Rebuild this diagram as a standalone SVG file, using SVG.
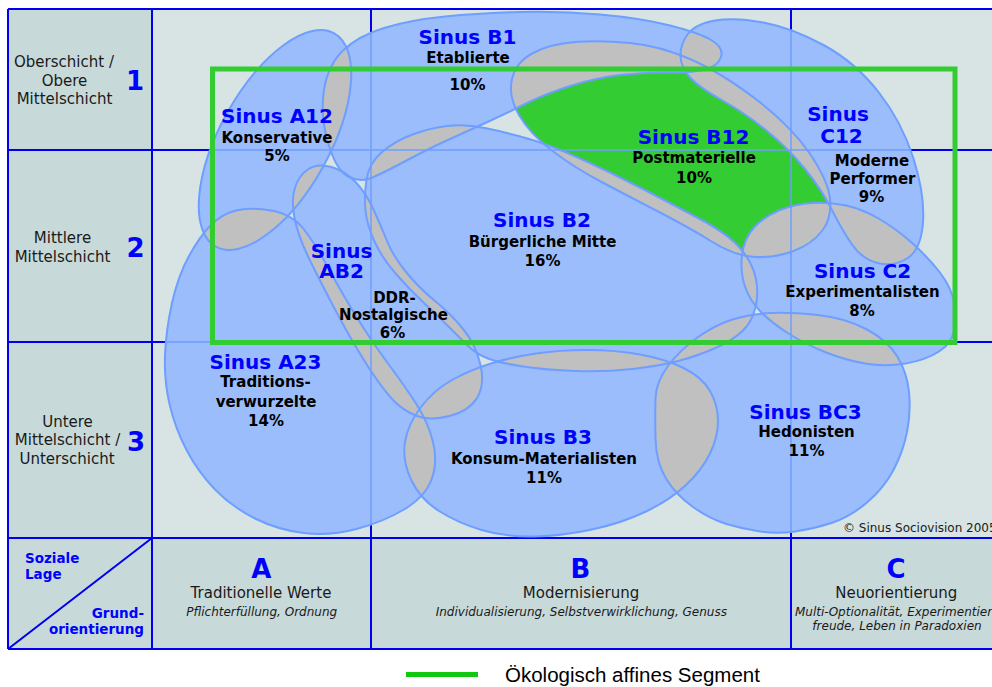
<svg xmlns="http://www.w3.org/2000/svg" xmlns:xlink="http://www.w3.org/1999/xlink" width="992" height="687" viewBox="0 0 992 687">
<style>
.bl{fill:#9bbdfc}
.gn{fill:#33cc33}
.gr{fill:#c0c0c0}
.ol{fill:none;stroke:#6e9eff;stroke-width:2}
.dk{stroke:#0000f0;stroke-width:2;fill:none}
.lt{stroke:#6e9eff;stroke-width:1.5;fill:none}
text{font-family:"DejaVu Sans",Verdana,sans-serif;text-anchor:middle}
.h{font-size:20px;font-weight:bold;fill:#0000ff}
.s{font-size:15px;font-weight:bold;fill:#000}
.lab{font-size:15px;fill:#1a1a1a}
.num{font-size:26px;font-weight:bold;fill:#0000ff}
.it{font-size:12px;font-style:italic;fill:#1a1a1a}
.hd{font-size:13.5px;font-weight:bold;fill:#0000ff}
</style>
<defs>
<ellipse id="pA12" cx="275" cy="140" rx="122" ry="55" transform="rotate(-61 275 140)"/>
<path id="pB1" d="M328,142.5 Q320,115 324,90 Q328,65 343,50.5 Q358,36 384,28 Q410,20 445,16.5 Q480,13 520,12 Q560,11 600,14.5 Q640,18 670,25.5 Q700,33 712,40.5 Q724,48 721,57 Q718,66 705,69.5 Q692,73 668.5,72.5 Q645,72 620,75 Q595,78 570,86 Q545,94 525,104 Q505,114 487.5,122 Q470,130 450,139 Q430,148 407.5,160 Q385,172 372.5,177.5 Q360,183 348,176.5 Q336,170 328,142.5 Z"/>
<path id="pB12" d="M519,115 Q508,96 512,79 Q516,62 533,53 Q550,44 575,42 Q600,40 630,43 Q660,46 690,59 Q720,72 755,98.5 Q790,125 809,152.5 Q828,180 830,199 Q832,218 822,231 Q812,244 793.5,251 Q775,258 755,257 Q735,256 712.5,242 Q690,228 660,212.5 Q630,197 602.5,182.5 Q575,168 552.5,151 Q530,134 519,115 Z"/>
<path id="pC12" d="M680.5,56.5 Q680,45 687.5,34.5 Q695,24 715,20.5 Q735,17 763.5,22.5 Q792,28 823.5,45 Q855,62 878.5,92 Q902,122 913.5,158.5 Q925,195 923,222.5 Q921,250 907,258.5 Q893,267 877.5,263 Q862,259 852,244.5 Q842,230 832,210 Q822,190 805,169 Q788,148 766.5,130.5 Q745,113 722.5,100.5 Q700,88 690.5,78 Q681,68 680.5,56.5 Z"/>
<path id="pB2" d="M365.5,210.5 Q364,196 366.5,179.5 Q369,163 382,152 Q395,141 412.5,134.5 Q430,128 447.5,126 Q465,124 485,128 Q505,132 527.5,138.5 Q550,145 580,158.5 Q610,172 640,187.5 Q670,203 699,218.5 Q728,234 740,248 Q752,262 755.5,277 Q759,292 755.5,307 Q752,322 742.5,331 Q733,340 716.5,347.5 Q700,355 680,360.5 Q660,366 632.5,369 Q605,372 575.5,371 Q546,370 523,366.5 Q500,363 488,358.5 Q476,354 467,345 Q458,336 448,326 Q438,316 424,303 Q410,290 396,274 Q382,258 374.5,241.5 Q367,225 365.5,210.5 Z"/>
<path id="pAB2" d="M308.5,169 Q318,163 331.5,167 Q345,171 355.5,182 Q366,193 373.5,209.5 Q381,226 387,241 Q393,256 406,272 Q419,288 435,301 Q451,314 463.5,329.5 Q476,345 480.5,365 Q485,385 477,398 Q469,411 449.5,416 Q430,421 417,416 Q404,411 394,401 Q384,391 369,368 Q354,345 338,315 Q322,285 310,260.5 Q298,236 294.5,218 Q291,200 295,187.5 Q299,175 308.5,169 Z"/>
<path id="pC2" d="M745,286.5 Q740,272 742,255 Q744,238 754.5,227 Q765,216 780,210 Q795,204 812.5,203 Q830,202 846,205.5 Q862,209 878.5,218.5 Q895,228 911,242 Q927,256 939.5,272 Q952,288 954,303 Q956,318 954,330.5 Q952,343 939,351.5 Q926,360 905.5,363.5 Q885,367 865,363.5 Q845,360 825,352 Q805,344 788.5,333.5 Q772,323 761,312 Q750,301 745,286.5 Z"/>
<path id="pA23" d="M236,210.5 Q250,207 271,210.5 Q292,214 304,229.5 Q316,245 328,267.5 Q340,290 356,316 Q372,342 388,363.5 Q404,385 416,403.5 Q428,422 433,442 Q438,462 431.5,479.5 Q425,497 404,509.5 Q383,522 356.5,529 Q330,536 304,533 Q278,530 255,518.5 Q232,507 215,489.5 Q198,472 186.5,450 Q175,428 169.5,404 Q164,380 165,355 Q166,330 172,303 Q178,276 189,256 Q200,236 211,225 Q222,214 236,210.5 Z"/>
<path id="pB3" d="M452,380 Q470,370 491,363.5 Q512,357 536,353.5 Q560,350 587.5,350 Q615,350 640,354.5 Q665,359 683.5,368 Q702,377 710,391 Q718,405 718,421 Q718,437 710,453.5 Q702,470 686,485 Q670,500 646,511.5 Q622,523 592,529.5 Q562,536 533.5,536.5 Q505,537 481.5,530 Q458,523 439,511 Q420,499 411,479.5 Q402,460 405,442 Q408,424 421,407 Q434,390 452,380 Z"/>
<path id="pBC3" d="M770,313 Q790,312 817.5,315 Q845,318 866,329 Q887,340 897,356 Q907,372 909,392 Q911,412 907,432 Q903,452 893.5,470 Q884,488 867,502.5 Q850,517 831.5,523 Q813,529 795,531.5 Q777,534 760,531.5 Q743,529 726.5,524 Q710,519 693,507 Q676,495 666,478.5 Q656,462 655.5,438.5 Q655,415 655.5,398.5 Q656,382 668,366 Q680,350 697.5,337.5 Q715,325 732.5,319.5 Q750,314 770,313 Z"/>
<clipPath id="cA12"><use href="#pA12"/></clipPath>
<clipPath id="cB1"><use href="#pB1"/></clipPath>
<clipPath id="cB12"><use href="#pB12"/></clipPath>
<clipPath id="cC12"><use href="#pC12"/></clipPath>
<clipPath id="cB2"><use href="#pB2"/></clipPath>
<clipPath id="cAB2"><use href="#pAB2"/></clipPath>
<clipPath id="cC2"><use href="#pC2"/></clipPath>
<clipPath id="cA23"><use href="#pA23"/></clipPath>
<clipPath id="cB3"><use href="#pB3"/></clipPath>
<clipPath id="cu"><use href="#pA12"/><use href="#pB1"/><use href="#pB12"/><use href="#pC12"/><use href="#pB2"/><use href="#pAB2"/><use href="#pC2"/><use href="#pA23"/><use href="#pB3"/><use href="#pBC3"/></clipPath>
</defs>

<g id="background">
<rect x="0" y="0" width="992" height="687" fill="#ffffff"/>
<rect x="8" y="9" width="144" height="529" fill="#c8d9d9"/>
<rect x="152" y="9" width="840" height="529" fill="#d8e4e4"/>
<rect x="8" y="538" width="984" height="111" fill="#c8d9d9"/>
</g>

<g id="grid">
<path class="dk" d="M8,9H992 M8,9V649 M8,649H992 M8,538H992 M152,9V649 M371,9V649 M791,9V649 M8,150H992 M8,342H992 M8,649L152,538"/>
</g>

<g id="segment-fills">
<use href="#pA12" class="bl"/>
<use href="#pB1" class="bl"/>
<use href="#pB12" class="gn"/>
<use href="#pC12" class="bl"/>
<use href="#pB2" class="bl"/>
<use href="#pAB2" class="bl"/>
<use href="#pC2" class="bl"/>
<use href="#pA23" class="bl"/>
<use href="#pB3" class="bl"/>
<use href="#pBC3" class="bl"/>
</g>

<g id="overlaps" class="gr">
<g clip-path="url(#cA12)"><use href="#pB1"/><use href="#pB12"/><use href="#pB2"/><use href="#pAB2"/><use href="#pA23"/></g>
<g clip-path="url(#cB1)"><use href="#pB12"/><use href="#pC12"/><use href="#pB2"/><use href="#pAB2"/></g>
<g clip-path="url(#cB12)"><use href="#pC12"/><use href="#pB2"/><use href="#pC2"/></g>
<g clip-path="url(#cC12)"><use href="#pB2"/><use href="#pC2"/></g>
<g clip-path="url(#cB2)"><use href="#pAB2"/><use href="#pC2"/><use href="#pA23"/><use href="#pB3"/><use href="#pBC3"/></g>
<g clip-path="url(#cAB2)"><use href="#pA23"/><use href="#pB3"/></g>
<g clip-path="url(#cC2)"><use href="#pB3"/><use href="#pBC3"/></g>
<g clip-path="url(#cA23)"><use href="#pB3"/></g>
<g clip-path="url(#cB3)"><use href="#pBC3"/></g>
</g>

<g id="inner-grid" clip-path="url(#cu)">
<path class="lt" d="M152,150H992 M152,342H992 M371,9V538 M791,9V538"/>
</g>

<g id="segment-outlines">
<use href="#pA12" class="ol"/>
<use href="#pB1" class="ol"/>
<use href="#pB12" class="ol"/>
<use href="#pC12" class="ol"/>
<use href="#pB2" class="ol"/>
<use href="#pAB2" class="ol"/>
<use href="#pC2" class="ol"/>
<use href="#pA23" class="ol"/>
<use href="#pB3" class="ol"/>
<use href="#pBC3" class="ol"/>
</g>

<rect id="eco-frame" x="212.5" y="69" width="742.5" height="273.5" fill="none" stroke="#33cc33" stroke-width="5"/>

<g id="seg-A12"><text class="h" x="277" y="122.7">Sinus A12</text><text class="s" x="277" y="142.7">Konservative</text><text class="s" x="277" y="160.7">5%</text></g>
<g id="seg-B1"><text class="h" x="467.5" y="44">Sinus B1</text><text class="s" x="468" y="62.7">Etablierte</text><text class="s" x="467.5" y="90">10%</text></g>
<g id="seg-B12"><text class="h" x="693.5" y="144">Sinus B12</text><text class="s" x="694" y="163">Postmaterielle</text><text class="s" x="694" y="182.7">10%</text></g>
<g id="seg-C12"><text class="h" x="838" y="120.7">Sinus</text><text class="h" x="841.5" y="142.7">C12</text><text class="s" x="872" y="165.7">Moderne</text><text class="s" x="872.5" y="184.3">Performer</text><text class="s" x="871.5" y="202.3">9%</text></g>
<g id="seg-B2"><text class="h" x="542" y="227.3">Sinus B2</text><text class="s" x="542.5" y="247.3">Bürgerliche Mitte</text><text class="s" x="542.5" y="266">16%</text></g>
<g id="seg-AB2"><text class="h" x="341.5" y="258">Sinus</text><text class="h" x="341.5" y="278.3">AB2</text><text class="s" x="394.5" y="302.7">DDR-</text><text class="s" x="393.5" y="320">Nostalgische</text><text class="s" x="392.5" y="338.3">6%</text></g>
<g id="seg-C2"><text class="h" x="862.5" y="278.3">Sinus C2</text><text class="s" x="862.5" y="296.7">Experimentalisten</text><text class="s" x="862" y="315.7">8%</text></g>
<g id="seg-A23"><text class="h" x="265.5" y="369">Sinus A23</text><text class="s" x="265.5" y="387.3">Traditions-</text><text class="s" x="266" y="406.7">verwurzelte</text><text class="s" x="266" y="425.7">14%</text></g>
<g id="seg-B3"><text class="h" x="543" y="444">Sinus B3</text><text class="s" x="544" y="464.3">Konsum-Materialisten</text><text class="s" x="544" y="483.3">11%</text></g>
<g id="seg-BC3"><text class="h" x="805.5" y="419">Sinus BC3</text><text class="s" x="806.5" y="437.3">Hedonisten</text><text class="s" x="806.5" y="456">11%</text></g>

<text x="843" y="531.5" style="font-size:12px;fill:#1a1a1a;text-anchor:start">© Sinus Sociovision 2005</text>

<g id="row-1"><text class="lab" x="64" y="66.7">Oberschicht /</text><text class="lab" x="64.5" y="85.7">Obere</text><text class="lab" x="64.5" y="104">Mittelschicht</text><text class="num" x="135" y="90">1</text></g>
<g id="row-2"><text class="lab" x="62.5" y="243.3">Mittlere</text><text class="lab" x="62.5" y="261.7">Mittelschicht</text><text class="num" x="135.5" y="256.7">2</text></g>
<g id="row-3"><text class="lab" x="67.5" y="426.7">Untere</text><text class="lab" x="67.5" y="445">Mittelschicht /</text><text class="lab" x="67" y="464">Unterschicht</text><text class="num" x="136" y="450.7">3</text></g>

<g id="corner"><text class="hd" x="25" y="563.3" style="text-anchor:start">Soziale</text><text class="hd" x="25" y="579" style="text-anchor:start">Lage</text><text class="hd" x="144" y="618.3" style="text-anchor:end">Grund-</text><text class="hd" x="144" y="634" style="text-anchor:end">orientierung</text></g>
<g id="col-A"><text class="num" x="261.3" y="578.3">A</text><text class="lab" x="261" y="598.3">Traditionelle Werte</text><text class="it" x="261.7" y="616">Pflichterfüllung, Ordnung</text></g>
<g id="col-B"><text class="num" x="580.5" y="578.3">B</text><text class="lab" x="581" y="598.3">Modernisierung</text><text class="it" x="581.3" y="616">Individualisierung, Selbstverwirklichung, Genuss</text></g>
<g id="col-C"><text class="num" x="896" y="578.3">C</text><text class="lab" x="896.3" y="598.3">Neuorientierung</text><text class="it" x="795" y="616" style="text-anchor:start">Multi-Optionalität, Experimentier</text><text class="it" x="897" y="630">freude, Leben in Paradoxien</text></g>

<g id="legend"><line x1="406" y1="674.5" x2="478" y2="674.5" stroke="#10c810" stroke-width="5"/><text x="505" y="682" style="font-family:'Liberation Sans',Arial,sans-serif;font-size:20.5px;fill:#000;text-anchor:start">Ökologisch affines Segment</text></g>
</svg>
